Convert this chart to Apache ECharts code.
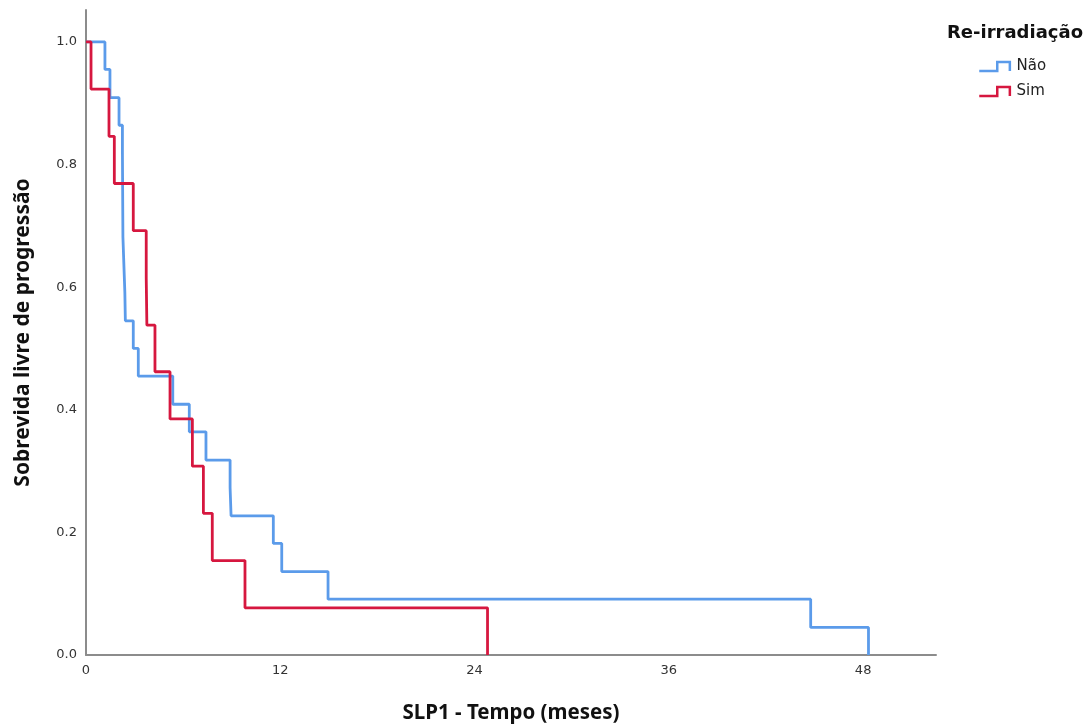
<!DOCTYPE html>
<html>
<head>
<meta charset="utf-8">
<script src="https://cdn.jsdelivr.net/npm/echarts@6/dist/echarts.min.js"></script>
<style>
  html, body { margin: 0; padding: 0; background: #fff; }
  #wrap { width: 1087px; height: 728px; }
</style>
</head>
<body>
<div id="wrap"></div>
<script>
// Kaplan-Meier steps (time in months, survival fraction)
var naoTime = [0, 1.17, 1.48, 2.04, 2.25, 2.28, 2.40, 2.43, 2.92, 3.23, 5.36, 6.38, 7.41, 8.90, 8.96, 11.57, 12.09, 14.95, 44.76, 48.33];
var naoSurv = [1, 0.955, 0.909, 0.864, 0.818, 0.682, 0.591, 0.545, 0.5, 0.455, 0.409, 0.364, 0.318, 0.273, 0.227, 0.182, 0.136, 0.091, 0.045, 0];
var simTime = [0, 0.31, 1.42, 1.75, 2.92, 3.72, 3.76, 4.26, 5.19, 6.57, 7.25, 7.80, 9.82, 24.80];
var simSurv = [1, 0.923, 0.846, 0.769, 0.692, 0.615, 0.538, 0.462, 0.385, 0.308, 0.231, 0.154, 0.077, 0];
var xTicks = [0, 12, 24, 36, 48];
var yTicks = [0, 0.2, 0.4, 0.6, 0.8, 1.0];

var blue = '#5b9bea';
var red = '#d6173f';
var stepIcon = 'path://M0,10 L20,10 L20,0 L34,0 L34,10';

function pairs(t, s) {
    var out = [];
    t.forEach(function(v, i) {
        out.push([v, s[i]]);
    });
    return out;
}

var myChart = echarts.init(document.getElementById('wrap'));
var option = {
    animation: false,
    backgroundColor: '#fff',
    textStyle: { fontFamily: 'Noto Sans' },
    grid: { left: 86, right: 151, top: 10, bottom: 73, containLabel: false, outerBoundsMode: 'none' },
    title: {
        text: 'Re-irradiação',
        left: 947,
        top: 24,
        padding: 0,
        textStyle: { fontSize: 18, fontWeight: 'bold', color: '#111', fontFamily: 'DejaVu Sans' }
    },
    legend: {
        orient: 'vertical',
        left: 978,
        top: 59,
        padding: 0,
        itemWidth: 34,
        itemHeight: 9,
        itemGap: 10,
        itemTextGap: 8,
        textStyle: { fontSize: 15, color: '#222', fontFamily: 'DejaVu Sans' },
        data: [
            { name: 'Não', icon: stepIcon, itemStyle: { color: 'rgba(0,0,0,0)', borderColor: blue, borderWidth: 2.5 } },
            { name: 'Sim', icon: stepIcon, itemStyle: { color: 'rgba(0,0,0,0)', borderColor: red, borderWidth: 2.5 } }
        ]
    },
    xAxis: {
        type: 'value',
        min: 0,
        max: 52.5,
        interval: 12,
        name: 'SLP1 - Tempo (meses)',
        nameLocation: 'middle',
        nameGap: 48,
        nameTextStyle: { fontSize: 20.5, fontWeight: 'bold', color: '#111' },
        axisLine: { show: true, lineStyle: { color: '#8c8c8c', width: 2 } },
        axisTick: { show: false },
        splitLine: { show: false },
        axisLabel: {
            showMaxLabel: false,
            margin: 9,
            fontSize: 13,
            fontFamily: 'DejaVu Sans',
            color: '#333',
            formatter: function(v) { return xTicks.indexOf(v) >= 0 ? String(v) : ''; }
        }
    },
    yAxis: {
        type: 'value',
        min: 0,
        max: 1.052,
        interval: 0.2,
        name: 'Sobrevida livre de progressão',
        nameLocation: 'middle',
        nameGap: 52,
        nameTextStyle: { fontSize: 21, fontWeight: 'bold', color: '#111' },
        axisLine: { show: true, lineStyle: { color: '#8c8c8c', width: 2 } },
        axisTick: { show: false },
        splitLine: { show: false },
        axisLabel: {
            showMaxLabel: false,
            margin: 9,
            fontSize: 13,
            fontFamily: 'DejaVu Sans',
            color: '#333',
            formatter: function(v) {
                var ok = yTicks.some(function(t) { return Math.abs(t - v) < 1e-6; });
                return ok ? v.toFixed(1) : '';
            }
        }
    },
    series: [
        {
            name: 'Não',
            type: 'line',
            step: 'end',
            symbol: 'none',
            data: pairs(naoTime, naoSurv),
            lineStyle: { color: blue, width: 2.8 },
            itemStyle: { color: blue },
            emphasis: { disabled: true }
        },
        {
            name: 'Sim',
            type: 'line',
            step: 'end',
            symbol: 'none',
            data: pairs(simTime, simSurv),
            lineStyle: { color: red, width: 2.8 },
            itemStyle: { color: red },
            emphasis: { disabled: true }
        }
    ]
};
myChart.setOption(option);
</script>
</body>
</html>
